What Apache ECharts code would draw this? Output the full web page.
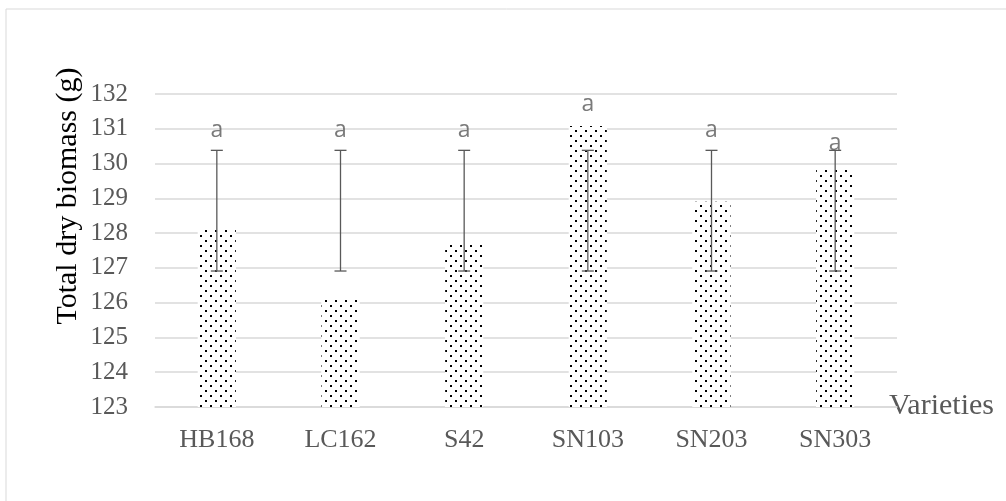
<!DOCTYPE html>
<html><head><meta charset="utf-8">
<script src="https://cdn.jsdelivr.net/npm/echarts@6/dist/echarts.min.js"></script>
<style>html,body{margin:0;padding:0;background:#fff}#c{width:1006px;height:501px}</style>
</head><body><div id="c"></div>
<script>
const categories = ['HB168','LC162','S42','SN103','SN203','SN303'];
const biomass = [128.15, 126.13, 127.72, 131.08, 128.9, 129.87];
const errLow = [126.91, 126.91, 126.91, 126.91, 126.91, 126.91];
const errHigh = [130.38, 130.38, 130.38, 130.38, 130.38, 130.38];
const letters = ['a','a','a','a','a','a'];
const letterY = [130.94, 130.94, 130.96, 131.71, 130.94, 130.59];
const yTicks = {min:123, max:132, interval:1};

const chart = echarts.init(document.getElementById('c'));
const gray = '#595959';
chart.setOption({
  animation:false,
  backgroundColor:'#fff',
  grid:{left:155, right:109, top:94, bottom:94},
  xAxis:{type:'category', data:categories,
    axisLine:{lineStyle:{color:'#d9d9d9', width:1.5}}, axisTick:{show:false},
    axisLabel:{color:gray, fontFamily:'Liberation Serif', fontSize:26, margin:20}},
  yAxis:{type:'value', min:yTicks.min, max:yTicks.max, interval:yTicks.interval,
    axisLine:{show:false}, axisTick:{show:false},
    splitLine:{lineStyle:{color:'#d9d9d9', width:1.5}},
    axisLabel:{color:gray, fontFamily:'Liberation Serif', fontSize:25, margin:27}},
  graphic:[
    {type:'rect', shape:{x:6, y:9, width:1100, height:600}, style:{fill:'none', stroke:'#d9d9d9', lineWidth:1}, silent:true, z:-10},
    {type:'text', x:68, y:196, rotation:Math.PI/2, style:{text:'Total dry biomass (g)', font:'30px "Liberation Serif"', fill:'#000', textAlign:'center', textVerticalAlign:'middle'}},
    {type:'text', x:889, y:406, style:{text:'Varieties', font:'30px "Liberation Serif"', fill:gray, textAlign:'left', textVerticalAlign:'middle'}}
  ],
  series:[
    {type:'bar', data:biomass, barWidth:38,
      itemStyle:{color:'#fff', decal:{symbol:'rect', symbolSize:1, color:'#000', backgroundColor:'#fff',
        dashArrayX:[[2,8],[0,5,2,3]], dashArrayY:[2,2.5], rotation:0}}},
    {type:'custom', data:categories.map((c,i)=>[i, errLow[i], errHigh[i]]),
      renderItem:function(params, api){
        const x = api.coord([api.value(0), api.value(1)])[0];
        const yl = api.coord([api.value(0), api.value(1)])[1];
        const yh = api.coord([api.value(0), api.value(2)])[1];
        const s = {stroke:gray, lineWidth:1.3};
        return {type:'group', children:[
          {type:'line', shape:{x1:x, y1:yl, x2:x, y2:yh}, style:s},
          {type:'line', shape:{x1:x-6, y1:yl, x2:x+6, y2:yl}, style:s},
          {type:'line', shape:{x1:x-6, y1:yh, x2:x+6, y2:yh}, style:s}
        ]};
      }, z:5},
    {type:'scatter', data:letterY.map((v,i)=>[i, v]), symbolSize:0,
      label:{show:true, position:'inside', formatter:p=>letters[p.dataIndex],
        color:gray, fontFamily:'Open Sans', fontSize:23}, z:6}
  ]
});
</script></body></html>
